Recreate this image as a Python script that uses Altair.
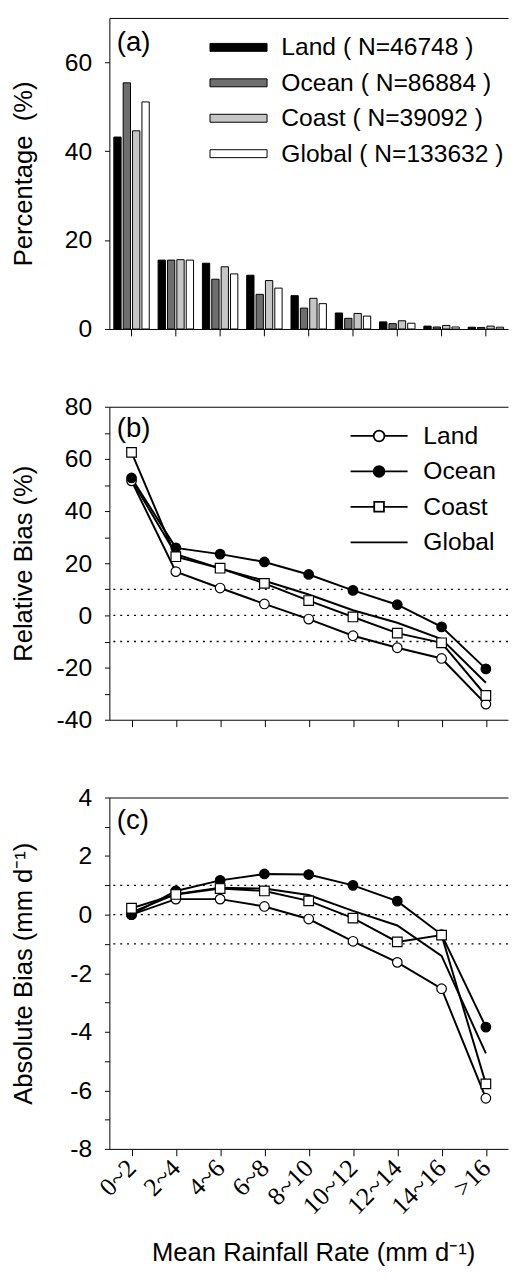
import altair as alt
import pandas as pd

# ---------------- data ----------------
categories = ["0~2", "2~4", "4~6", "6~8", "8~10", "10~12", "12~14", "14~16", ">16"]
series = ["Land", "Ocean", "Coast", "Global"]
legend_a_labels = ["Land ( N=46748 )", "Ocean ( N=86884 )", "Coast ( N=39092 )", "Global ( N=133632 )"]

# (a) percentage of samples (%)
pct_land = [43.2, 15.5, 14.8, 12.1, 7.5, 3.6, 1.6, 0.65, 0.4]
pct_ocean = [55.4, 15.5, 11.2, 7.8, 4.7, 2.4, 1.2, 0.45, 0.35]
pct_coast = [44.6, 15.6, 14.0, 10.9, 6.9, 3.5, 1.85, 0.8, 0.65]
pct_global = [51.1, 15.5, 12.4, 9.2, 5.7, 2.9, 1.3, 0.45, 0.4]

# (b) relative bias (%)
rb_land = [51.6, 16.8, 10.5, 4.4, -1.4, -7.8, -12.4, -16.5, -34.0]
rb_ocean = [52.7, 25.9, 23.5, 20.5, 15.7, 9.6, 4.1, -4.4, -20.5]
rb_coast = [62.5, 22.5, 18.1, 12.3, 5.7, -0.6, -6.8, -10.5, -30.7]
rb_global = [52.0, 23.5, 18.0, 13.3, 8.0, 2.0, -2.8, -9.1, -25.8]

# (c) absolute bias (mm/d)
ab_land = [0.0, 0.53, 0.53, 0.28, -0.15, -0.91, -1.63, -2.53, -6.27]
ab_ocean = [0.0, 0.81, 1.17, 1.39, 1.37, 1.0, 0.46, -0.68, -3.84]
ab_coast = [0.22, 0.69, 0.89, 0.81, 0.47, -0.12, -0.93, -0.70, -5.78]
ab_global = [0.08, 0.70, 0.92, 0.89, 0.67, 0.13, -0.37, -1.41, -4.74]

ref_rb = [-10, 0, 10]
ref_ab = [-1, 0, 1]

panel_tags = ["(a)", "(b)", "(c)"]
tag_values = [62.6, 68.4, 2.92]

bar_colors = ["#000000", "#6e6e6e", "#c6c6c6", "#ffffff"]
FONT = "Liberation Sans"


def long_df(vals_list):
    rows = []
    for s, vals in zip(series, vals_list):
        for c, v in zip(categories, vals):
            rows.append({"cat": c, "series": s, "v": v})
    return pd.DataFrame(rows)


df_a = long_df([pct_land, pct_ocean, pct_coast, pct_global])
df_a["lab"] = df_a["series"].map(dict(zip(series, legend_a_labels)))
df_b = long_df([rb_land, rb_ocean, rb_coast, rb_global])
df_c = long_df([ab_land, ab_ocean, ab_coast, ab_global])
ref_b = pd.DataFrame({"v": ref_rb})
ref_c = pd.DataFrame({"v": ref_ab})

# ---------------- common pieces ----------------
W = 405
x_scale = alt.Scale(domain=categories, paddingInner=0.2, paddingOuter=0.1)
bottom_plain = alt.Axis(orient="bottom", labels=False, ticks=True, tickSize=7, title=None, domain=True)
top_axis = alt.Axis(orient="top", labels=False, ticks=False, title=None, domain=True)


def xenc(axis):
    return alt.X("cat:N", sort=categories, scale=x_scale, axis=axis)


def frame(df):
    return alt.Chart(df).mark_point(opacity=0).encode(x=xenc(top_axis))


def tag_layer(i, y_enc):
    d = pd.DataFrame({"cat": [categories[0]], "v": [tag_values[i]], "t": [panel_tags[i]]})
    return alt.Chart(d).mark_text(align="left", baseline="alphabetic", fontSize=28, font=FONT,
                                  color="black", dx=-15).encode(x=xenc(None), y=y_enc, text="t:N")


def label_expr(step):
    return (f"datum.value % {step} == 0 ? (datum.value < 0 ? '-' + abs(datum.value) : '' + datum.value) : ''")


def yaxis(title, values, step):
    return alt.Axis(values=values, tickSize=5, labelPadding=13, labelExpr=label_expr(step),
                    title=title, titleX=-87, titleBaseline="middle", titleAngle=270)


# ---------------- panel (a) ----------------
y_a = alt.Y("v:Q", scale=alt.Scale(domain=[0, 70], nice=False, zero=True),
            axis=yaxis("Percentage\u00a0 (%)", [0, 20, 40, 60], 20))
legend_a = alt.Legend(title=None, orient="none", legendX=117.7, legendY=16.4,
                      symbolType="M-2.23,-0.31L2.23,-0.31L2.23,0.31L-2.23,0.31Z", symbolSize=676,
                      symbolStrokeColor="black", symbolStrokeWidth=1, labelFont=FONT,
                      labelFontSize=25, labelOffset=30, rowPadding=9, padding=0, labelLimit=400,
                      labelColor="black")
bars = alt.Chart(df_a).mark_bar(stroke="black", strokeWidth=1).encode(
    x=xenc(bottom_plain),
    xOffset=alt.XOffset("series:N", sort=series,
                        scale=alt.Scale(domain=series, paddingInner=0.22, paddingOuter=0)),
    y=y_a,
    fill=alt.Fill("lab:N", scale=alt.Scale(domain=legend_a_labels, range=bar_colors), legend=legend_a),
)
panel_a = alt.layer(bars, tag_layer(0, y_a), frame(df_a)).resolve_axis(x="independent").properties(
    width=W, height=316)

# ---------------- line panels ----------------
L = 2.23
lw = 0.42
sq = 0.38
path_circle = f"M-{L},0L-{lw},0M{lw},0L{L},0M-{lw},0A{lw},{lw},0,1,1,{lw},0A{lw},{lw},0,1,1,-{lw},0Z"
path_square = f"M-{L},0L-{sq},0M{sq},0L{L},0M-{sq},-{sq}L{sq},-{sq}L{sq},{sq}L-{sq},{sq}Z"
path_line = f"M-{L},0L{L},0"


def line_panel(df, ref, y_enc, xaxis, idx, height, with_legend):
    rules = alt.Chart(ref).mark_rule(color="black", strokeDash=[2, 5], strokeWidth=1.3).encode(y=y_enc)
    lines = alt.Chart(df).mark_line(color="black", strokeWidth=2).encode(
        x=xenc(xaxis), y=y_enc, detail="series:N")
    pts = alt.Chart(df).transform_filter("datum.series != 'Global'").mark_point(
        filled=True, stroke="black", strokeWidth=1.2, opacity=1).encode(
        x=xenc(None), y=y_enc,
        shape=alt.Shape("series:N", scale=alt.Scale(domain=["Land", "Ocean", "Coast"],
                                                    range=["circle", "circle", "square"]), legend=None),
        fill=alt.Fill("series:N", scale=alt.Scale(domain=["Land", "Ocean", "Coast"],
                                                  range=["white", "black", "white"]), legend=None),
        size=alt.Size("series:N", scale=alt.Scale(domain=["Land", "Ocean", "Coast"],
                                                  range=[95, 95, 105]), legend=None),
    )
    layers = [rules, lines, pts]
    if with_legend:
        leg = alt.Legend(title=None, orient="none", legendX=260, legendY=15.7, symbolSize=676,
                         symbolStrokeColor="black", symbolStrokeWidth=1.8, labelFont=FONT,
                         labelFontSize=25, labelOffset=31, rowPadding=9, padding=0,
                         labelColor="black")
        carrier = alt.Chart(df).transform_filter("datum.series == '__none__'").mark_point(
            filled=True, strokeWidth=1.8, opacity=1).encode(
            x=xenc(None), y=y_enc,
            shape=alt.Shape("series:N", scale=alt.Scale(domain=series,
                                                        range=[path_circle, path_circle, path_square, path_line]),
                            legend=leg),
            fill=alt.Fill("series:N", scale=alt.Scale(domain=series,
                                                      range=["white", "black", "white", "white"]),
                          legend=leg),
            stroke=alt.Stroke("series:N", scale=alt.Scale(domain=series,
                                                          range=["black", "black", "black", "black"]),
                              legend=leg),
        )
        layers.append(carrier)
    layers.append(tag_layer(idx, y_enc))
    layers.append(frame(df))
    return alt.layer(*layers).resolve_axis(x="independent").resolve_scale(
        shape="independent", fill="independent", size="independent", stroke="independent").properties(
        width=W, height=height)


y_b = alt.Y("v:Q", scale=alt.Scale(domain=[-40, 80], nice=False, zero=False),
            axis=yaxis("Relative Bias (%)", list(range(-40, 81, 10)), 20))
y_c = alt.Y("v:Q", scale=alt.Scale(domain=[-8, 4], nice=False, zero=False),
            axis=yaxis("Absolute Bias (mm d\u207b\u00b9)", list(range(-8, 5, 1)), 2))

x_axis_c = alt.Axis(orient="bottom", labelAngle=-45, labelAlign="right", labelBaseline="middle",
                    labelFont="Liberation Serif", labelFontSize=26, labelPadding=8, tickSize=7,
                    title="Mean Rainfall Rate (mm d\u207b\u00b9)", titleFontSize=26, titleY=113,
                    titleX=207, titleBaseline="alphabetic")

panel_b = line_panel(df_b, ref_b, y_b, bottom_plain, 1, 318, True)
panel_c = line_panel(df_c, ref_c, y_c, x_axis_c, 2, 357, False)

chart = alt.vconcat(panel_a, panel_b, panel_c, spacing=54).properties(
    padding={"left": 3, "top": 0, "right": 0, "bottom": 0}
).configure_view(stroke=None).configure_axis(
    labelFont=FONT, titleFont=FONT, labelFontSize=25, titleFontSize=26, labelColor="black",
    titleColor="black", domainColor="black", tickColor="black", grid=False,
    titleFontWeight="normal", domainWidth=1, tickWidth=1
)

chart.save("out.html", embed_options={"renderer": "svg", "actions": False})
